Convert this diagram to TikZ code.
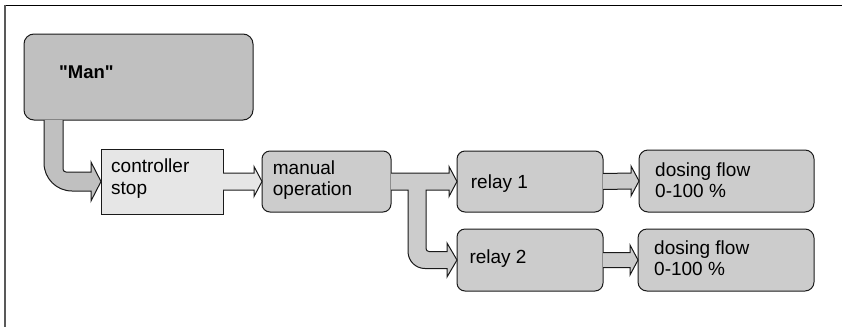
\documentclass[tikz,border=0pt]{standalone}
\usepackage{fontspec}
\newfontfamily\arialfont{Liberation Sans}
\usetikzlibrary{calc}
\definecolor{mangray}{HTML}{C0C0C0}
\definecolor{boxgray}{HTML}{CCCCCC}
\definecolor{palegray}{HTML}{E6E6E6}
\definecolor{edgec}{HTML}{1A1A1A}
\begin{document}
\begin{tikzpicture}[x=1pt,y=-1pt,
  box/.style={draw=edgec, line width=1pt, anchor=north west, inner sep=0pt, outer sep=0pt, fill=boxgray},
  txt/.style={anchor=base west, inner sep=0pt, font=\arialfont\fontsize{19}{21.6}\selectfont, align=left},
  conn/.style={draw=edgec, line width=1pt, line join=miter},
]
\useasboundingbox (0,0) rectangle (842,327);
\draw[black, line width=1.5pt] (4,5.5) -- (842,5.5);
\draw[black!65, line width=2pt] (5,4.8) -- (5,327);

% boxes
\node[box, fill=mangray, rounded corners=10pt, minimum width=229pt, minimum height=86pt] (man) at (24,34) {};
\node[box, fill=palegray, minimum width=122pt, minimum height=65pt] (ctrl) at (101,149) {};
\node[box, rounded corners=8pt, minimum width=129pt, minimum height=61pt] (manop) at (262,151) {};
\node[box, rounded corners=8pt, minimum width=146pt, minimum height=61pt] (relay1) at (457,151) {};
\node[box, rounded corners=8pt, minimum width=146pt, minimum height=62pt] (relay2) at (457,229) {};
\node[box, rounded corners=9pt, minimum width=175pt, minimum height=62pt] (dose1) at (639,150) {};
\node[box, rounded corners=9pt, minimum width=176pt, minimum height=62pt] (dose2) at (638,229) {};

% texts (base anchor = last line baseline)
\node[txt, font=\arialfont\fontsize{18.5}{21.6}\selectfont\bfseries] (mant) at ($(man.north west)+(35,44)$) {"Man"};
\node[txt] (ctrlt) at ($(ctrl.north west)+(10,45.3)$) {controller\\stop};
\node[txt] (manopt) at ($(manop.north west)+(10.7,44.6)$) {manual\\operation};
\node[txt] (relay1t) at ($(relay1.north west)+(13.7,37.3)$) {relay 1};
\node[txt] (relay2t) at ($(relay2.north west)+(12.3,34.3)$) {relay 2};
\node[txt] (dose1t) at ($(dose1.north west)+(16,47.6)$) {dosing flow\\0-100 \%};
\node[txt] (dose2t) at ($(dose2.north west)+(16,46.6)$) {dosing flow\\0-100 \%};

% arrow Man -> controller stop
\coordinate (m0) at ($(man.south west)+(20,0)$);
\draw[conn, fill=mangray] (m0) -- ($(m0|-ctrl.west)+(0,-18.5)$)
  arc[start angle=180, end angle=90, radius=28]
  -- ($(ctrl.west)+(-10,9.5)$) -- ($(ctrl.west)+(-10,19.5)$) -- (ctrl.west)
  -- ($(ctrl.west)+(-10,-19.5)$) -- ($(ctrl.west)+(-10,-9.5)$)
  -- ($(ctrl.west)+(-35,-9.5)$)
  arc[start angle=90, end angle=180, radius=3]
  -- ($(m0)+(19,0)$);

% arrow controller stop -> manual operation
\draw[conn, fill=palegray] ($(ctrl.east)+(0,-8.5)$) -- ($(manop.west)+(-8,-8.5)$)
  -- ($(manop.west)+(-8,-15)$) -- (manop.west) -- ($(manop.west)+(-8,15)$)
  -- ($(manop.west)+(-8,8.5)$) -- ($(ctrl.east)+(0,8.5)$);

% arrow manual operation -> relay 1 / relay 2
\draw[conn, fill=boxgray] ($(manop.east)+(0,-8.5)$) -- ($(relay1.west)+(-8,-8.5)$)
  -- ($(relay1.west)+(-8,-15)$) -- (relay1.west) -- ($(relay1.west)+(-8,15)$)
  -- ($(relay1.west)+(-8,8.5)$) -- ($(manop.east)+(35,8.5)$)
  -- ($(manop.east|-relay2.west)+(35,-11.5)$)
  arc[start angle=180, end angle=90, radius=3]
  -- ($(relay2.west)+(-10,-8.5)$) -- ($(relay2.west)+(-10,-17)$) -- (relay2.west)
  -- ($(relay2.west)+(-10,17)$) -- ($(relay2.west)+(-10,8.5)$)
  -- ($(manop.east|-relay2.west)+(34,8.5)$)
  arc[start angle=90, end angle=180, radius=17]
  -- ($(manop.east)+(17,8.5)$) -- ($(manop.east)+(0,8.5)$);

% arrow relay 1 -> dosing flow
\draw[conn, fill=boxgray] ($(relay1.east)+(0,-8)$) -- ($(dose1.west)+(-8,-8)$)
  -- ($(dose1.west)+(-8,-15)$) -- (dose1.west) -- ($(dose1.west)+(-8,15)$)
  -- ($(dose1.west)+(-8,8)$) -- ($(relay1.east)+(0,8)$);

% arrow relay 2 -> dosing flow
\draw[conn, fill=boxgray] ($(relay2.east)+(0,-7.5)$) -- ($(dose2.west)+(-8,-7.5)$)
  -- ($(dose2.west)+(-8,-15)$) -- (dose2.west) -- ($(dose2.west)+(-8,15)$)
  -- ($(dose2.west)+(-8,7.5)$) -- ($(relay2.east)+(0,7.5)$);
\end{tikzpicture}
\end{document}
